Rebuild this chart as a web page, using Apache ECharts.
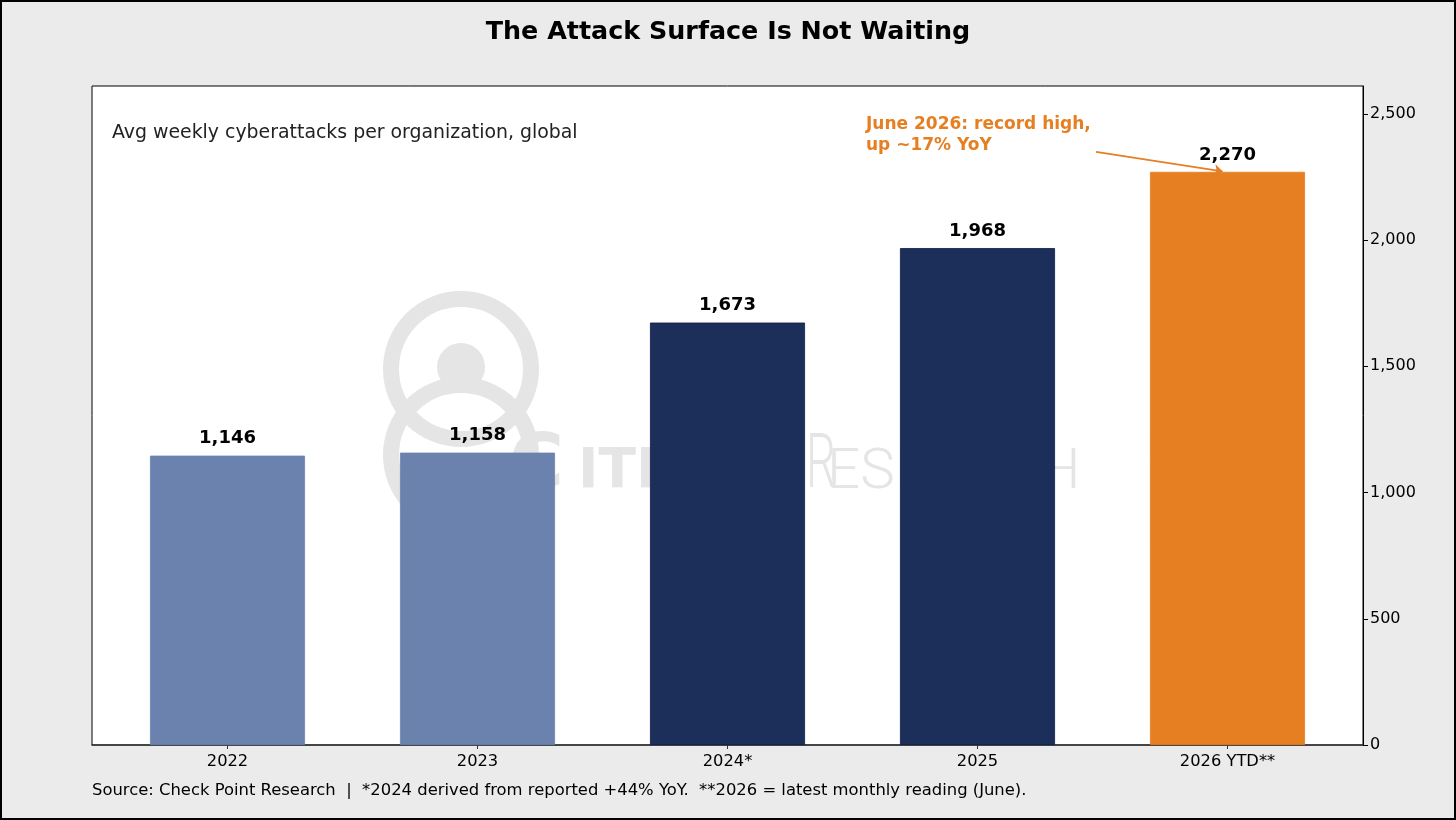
<!DOCTYPE html>
<html>
<head>
<meta charset="utf-8">
<script src="https://cdn.jsdelivr.net/npm/echarts@6/dist/echarts.min.js"></script>
<style>
  html, body { margin: 0; padding: 0; background: #ebebeb; }
  #main { width: 1456px; height: 820px; }
</style>
</head>
<body>
<div id="main"></div>
<script>
// data
var years = ['2022', '2023', '2024*', '2025', '2026 YTD**'];
var attacks = [1146, 1158, 1673, 1968, 2270];
var barColors = ['#6b82ae', '#6b82ae', '#1c2e5a', '#1c2e5a', '#e57f22'];
var yTicks = [0, 500, 1000, 1500, 2000, 2500];
var xTicks = [0, 1, 2, 3, 4];

var FONT = '"DejaVu Sans"';
var WM = '#e5e5e5';

function fmt(v) {
    return String(Math.round(v)).replace(/\B(?=(\d{3})+(?!\d))/g, ',');
}

var myChart = echarts.init(document.getElementById('main'));

var option = {
    backgroundColor: '#ebebeb',
    animation: false,
    textStyle: { fontFamily: 'DejaVu Sans' },
    grid: {
        left: 92, right: 93, top: 86, bottom: 75,
        show: true,
        backgroundColor: '#ffffff',
        borderColor: '#000000',
        borderWidth: 1,
        z: 0
    },
    xAxis: {
        type: 'value',
        min: -0.542,
        max: 4.542,
        splitLine: { show: false },
        axisLine: { show: true, onZero: false, lineStyle: { color: '#333333', width: 1.5 } },
        axisTick: { show: true, customValues: xTicks, length: 4, lineStyle: { color: '#333333' } },
        axisLabel: {
            customValues: xTicks,
            formatter: function (v) { return years[Math.round(v)]; },
            color: '#000000',
            fontSize: 16.3,
            fontFamily: 'DejaVu Sans',
            margin: 9
        }
    },
    yAxis: {
        type: 'value',
        position: 'right',
        min: 0,
        max: 2610,
        interval: 500,
        splitLine: { show: false },
        axisLine: { show: true, onZero: false, lineStyle: { color: '#000000', width: 1 } },
        axisTick: { show: true, customValues: yTicks, length: 5, lineStyle: { color: '#000000' } },
        axisLabel: {
            customValues: yTicks,
            formatter: fmt,
            color: '#000000',
            fontSize: 16,
            fontFamily: 'DejaVu Sans',
            margin: 7
        }
    },
    graphic: [
        // outer border
        { type: 'rect', z: 100, shape: { x: 1, y: 1, width: 1454, height: 818 },
          style: { fill: 'none', stroke: '#000000', lineWidth: 2 } },
        // title
        { type: 'text', x: 728, y: 32, z: 10,
          style: { text: 'The Attack Surface Is Not Waiting', font: 'bold 25.4px ' + FONT,
                   fill: '#000000', textAlign: 'center', textVerticalAlign: 'middle' } },
        // watermark, behind the bars
        { type: 'circle', z: 1, silent: true, shape: { cx: 461, cy: 369, r: 70 },
          style: { fill: 'none', stroke: WM, lineWidth: 16 } },
        { type: 'circle', z: 1, silent: true, shape: { cx: 461, cy: 367, r: 24 },
          style: { fill: WM } },
        { type: 'circle', z: 1, silent: true, shape: { cx: 461, cy: 455, r: 70 },
          style: { fill: 'none', stroke: WM, lineWidth: 16 } },
        { type: 'text', z: 1, silent: true, x: 509, y: 505,
          style: { text: 'C', font: 'bold 75px ' + FONT, fill: WM, textVerticalAlign: 'bottom' } },
        { type: 'text', z: 1, silent: true, x: 578, y: 500,
          style: { text: 'ITIZEN', font: 'bold 55px ' + FONT, fill: WM, textVerticalAlign: 'bottom' } },
        { type: 'text', z: 1, silent: true, x: 806, y: 506, scaleX: 0.62,
          style: { text: 'R', font: '300 76px Roboto, "Open Sans"', fill: WM, textVerticalAlign: 'bottom' } },
        { type: 'text', z: 1, silent: true, x: 827, y: 502, scaleX: 1.06,
          style: { text: 'ESEARCH', font: '300 55px Roboto, "Open Sans"', fill: WM, textVerticalAlign: 'bottom' } },
        // subtitle inside plot
        { type: 'text', x: 112, y: 133, z: 10,
          style: { text: 'Avg weekly cyberattacks per organization, global', font: '18.9px ' + FONT,
                   fill: '#222222', textVerticalAlign: 'middle' } },
        // annotation
        { type: 'text', x: 866, y: 114, z: 10,
          style: { text: 'June 2026: record high,\nup ~17% YoY', font: 'bold 17px ' + FONT,
                   fill: '#e57f22', lineHeight: 21 } },
        // footer
        { type: 'text', x: 92, y: 791, z: 10,
          style: { text: 'Source: Check Point Research  |  *2024 derived from reported +44% YoY.  **2026 = latest monthly reading (June).',
                   font: '16.4px ' + FONT, fill: '#000000', textVerticalAlign: 'middle' } }
    ],
    series: [{
        type: 'bar',
        z: 2,
        barWidth: 155,
        data: attacks.map(function (v, i) {
            return {
                value: [i, v],
                itemStyle: {
                    color: barColors[i],
                    borderColor: i === 2 || i === 3 ? '#0f1b45' : barColors[i],
                    borderWidth: 0.8
                }
            };
        }),
        label: {
            show: true,
            position: 'top',
            distance: 8,
            formatter: function (p) { return fmt(p.value[1]); },
            fontFamily: 'DejaVu Sans',
            fontWeight: 'bold',
            fontSize: 18,
            color: '#000000'
        },
        markLine: {
            silent: true,
            symbol: ['none', 'arrow'],
            symbolSize: [9, 8],
            label: { show: false },
            lineStyle: { color: '#e57f22', width: 1.6, type: 'solid' },
            data: [[{ coord: [3.474, 2349] }, { coord: [3.98, 2272] }]]
        }
    }]
};

myChart.setOption(option);
</script>
</body>
</html>
